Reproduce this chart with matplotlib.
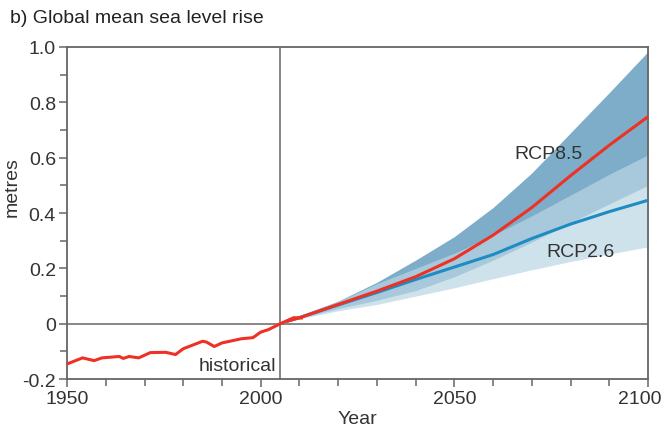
import matplotlib.pyplot as plt
from matplotlib.ticker import MultipleLocator, FuncFormatter

# observed global mean sea level, relative to 2005
hist_years = [1950, 1954, 1957, 1959, 1963.5, 1964.5, 1966, 1968.5, 1971.5, 1975.5,
              1978, 1980, 1985, 1986, 1988, 1990, 1995, 1998, 2000, 2002, 2005,
              2008.5, 2010.5]
hist_vals = [-0.145, -0.123, -0.133, -0.123, -0.118, -0.125, -0.118, -0.123, -0.104, -0.103,
             -0.111, -0.090, -0.063, -0.066, -0.082, -0.069, -0.054, -0.050, -0.030, -0.021, 0.0,
             0.022, 0.021]

# projections (median and likely range)
proj_years = [2007, 2010, 2020, 2030, 2040, 2050, 2060, 2070, 2080, 2090, 2100]
rcp85_mid = [0.010, 0.022, 0.070, 0.118, 0.170, 0.235, 0.320, 0.420, 0.535, 0.645, 0.748]
rcp85_hi = [0.012, 0.030, 0.082, 0.150, 0.230, 0.315, 0.420, 0.545, 0.690, 0.835, 0.983]
rcp85_lo = [0.008, 0.020, 0.055, 0.085, 0.120, 0.170, 0.230, 0.295, 0.365, 0.433, 0.500]
rcp26_mid = [0.010, 0.022, 0.068, 0.113, 0.160, 0.205, 0.250, 0.308, 0.360, 0.405, 0.446]
rcp26_hi = [0.012, 0.030, 0.080, 0.145, 0.200, 0.255, 0.320, 0.390, 0.465, 0.540, 0.610]
rcp26_lo = [0.008, 0.018, 0.047, 0.070, 0.100, 0.130, 0.163, 0.195, 0.225, 0.252, 0.278]

plt.rcParams['font.family'] = ['Liberation Sans', 'DejaVu Sans']
text_col = '#333333'
axis_col = '#666666'

fig = plt.figure(figsize=(6.64, 4.35), dpi=100)
ax = fig.add_axes([0.101, 0.126, 0.875, 0.764])

ax.fill_between(proj_years, rcp85_lo, rcp85_hi, color='#7DADC9', lw=0, zorder=1)
ax.fill_between(proj_years, rcp26_lo, rcp26_hi, color='#BAD6E4', alpha=0.7, lw=0, zorder=2)

ax.axhline(0, color=axis_col, lw=1.1, zorder=3)
ax.axvline(2005, color=axis_col, lw=1.1, zorder=3)

ax.plot(proj_years, rcp26_mid, color='#1E8BC3', lw=2.2, zorder=4)
ax.plot(proj_years, rcp85_mid, color='#EE3124', lw=2.2, zorder=5)
ax.plot(hist_years, hist_vals, color='#EE3124', lw=2.2, zorder=5)

ax.text(2004, -0.152, 'historical', ha='right', va='center', fontsize=14, color=text_col)
ax.text(2074.2, 0.615, 'RCP8.5', ha='center', va='center', fontsize=14, color=text_col)
ax.text(2082.5, 0.26, 'RCP2.6', ha='center', va='center', fontsize=14, color=text_col)

ax.set_xlim(1950, 2100)
ax.set_ylim(-0.2, 1.0)
ax.xaxis.set_major_locator(MultipleLocator(50))
ax.xaxis.set_minor_locator(MultipleLocator(10))
ax.yaxis.set_major_locator(MultipleLocator(0.2))
ax.yaxis.set_minor_locator(MultipleLocator(0.1))
ax.yaxis.set_major_formatter(FuncFormatter(lambda v, p: '0' if abs(v) < 1e-9 else f'{v:.1f}'))
# the 2100 label is drawn separately so it stays inside the figure
ax.xaxis.set_major_formatter(FuncFormatter(lambda v, p: '' if v > 2099 else f'{v:.0f}'))
ax.annotate('2100', xy=(2100, 0), xycoords=('data', 'axes fraction'),
            xytext=(-6, -8), textcoords='offset points', ha='center', va='top',
            fontsize=14, color=text_col)

for s in ax.spines.values():
    s.set_color(axis_col)
    s.set_linewidth(1.3)
ax.tick_params(which='both', direction='out', color=axis_col, width=1.1,
               labelsize=14, labelcolor=text_col)
ax.tick_params(which='major', length=6, pad=2)
ax.tick_params(which='minor', length=5)

ax.set_xlabel('Year', fontsize=14, color=text_col, labelpad=2)
fig.text(0.019, 0.57, 'metres', rotation=90, ha='center', va='center',
         fontsize=14, color=text_col)

fig.text(0.015, 0.958, 'b) Global mean sea level rise', fontsize=14, color='#222222',
         ha='left', va='center')

fig.savefig('out.png', dpi=100)
